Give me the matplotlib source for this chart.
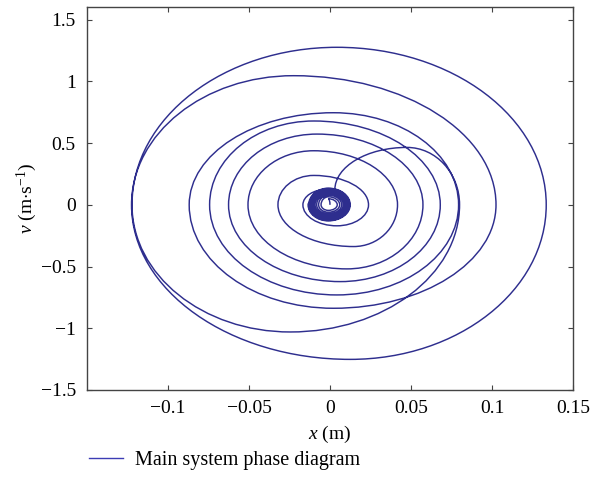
import numpy as np
import matplotlib.pyplot as plt
from matplotlib.path import Path
from matplotlib.patches import PathPatch

plt.rcParams['font.family'] = ['Liberation Serif', 'DejaVu Serif']
plt.rcParams['mathtext.fontset'] = 'custom'
plt.rcParams['mathtext.rm'] = 'Liberation Serif'
plt.rcParams['mathtext.it'] = 'Liberation Serif:italic'

# dense ring at the centre, one entry per turn (turning points of x and v)
ring_x0 = -0.001
ring_right = [0.0045, 0.0060, 0.0072, 0.0082, 0.0090, 0.0097, 0.0103, 0.0108, 0.0113, 0.0117, 0.0121, 0.0125]
ring_top = [0.049, 0.065, 0.078, 0.088, 0.097, 0.105, 0.111, 0.117, 0.122, 0.127, 0.131, 0.135]
ring_left = [-0.0055, -0.0070, -0.0082, -0.0092, -0.0100, -0.0107, -0.0113, -0.0118, -0.0123, -0.0127, -0.0131, -0.0135]
ring_bottom = [-0.045, -0.060, -0.072, -0.082, -0.091, -0.099, -0.105, -0.111, -0.117, -0.121, -0.126, -0.130]

# point where the trajectory leaves the ring
arc_start = (0.003, 0.12)

# big loops, one entry per turn: top (x, v), right x, bottom (x, v), left x
top_x = [0.0475, 0.0043, -0.0225, 0.0022, -0.010, -0.008, -0.010, -0.010]
top_v = [0.465, 1.276, 1.046, 0.746, 0.679, 0.573, 0.438, 0.238]
right_x = [0.0800, 0.1335, 0.1025, 0.0794, 0.0681, 0.0574, 0.0417, 0.0238]
bottom_x = [-0.0245, 0.0125, 0.0022, 0.0043, 0.0064, 0.0105, 0.0146, 0.0043]
bottom_v = [-1.030, -1.252, -0.838, -0.730, -0.622, -0.519, -0.338, -0.170]
left_x = [-0.1222, -0.1225, -0.0869, -0.0743, -0.0626, -0.0506, -0.0321, -0.0167]

# where it ends, back inside the ring
end_point = (-0.002, 0.125)

xticks = [-0.1, -0.05, 0, 0.05, 0.1, 0.15]
xlabels = ['\u22120.1', '\u22120.05', '0', '0.05', '0.1', '0.15']
yticks = [-1.5, -1, -0.5, 0, 0.5, 1, 1.5]
ylabels = ['\u22121.5', '\u22121', '\u22120.5', '0', '0.5', '1', '1.5']

line_color = '#2e2e8e'


# turning points -> smooth path (cubic Bezier quarter arcs)
# 'h' = horizontal tangent (extreme of v), 'v' = vertical tangent (extreme of x)
def phase_path(pts, kinds):
    k = 0.5523
    verts = [pts[0]]
    codes = [Path.MOVETO]
    for i in range(len(pts) - 1):
        x0, y0 = pts[i]
        x1, y1 = pts[i + 1]
        if kinds[i] == 'h':
            c1 = (x0 + k * (x1 - x0), y0)
        else:
            c1 = (x0, y0 + k * (y1 - y0))
        if kinds[i + 1] == 'h':
            c2 = (x1 - k * (x1 - x0), y1)
        else:
            c2 = (x1, y1 - k * (y1 - y0))
        verts += [c1, c2, (x1, y1)]
        codes += [Path.CURVE4] * 3
    return Path(verts, codes)


pts = [(0.0, 0.0)]
kinds = ['v']
for r, t, l, b in zip(ring_right, ring_top, ring_left, ring_bottom):
    pts += [(ring_x0, t), (r, 0.0), (ring_x0, b), (l, 0.0)]
    kinds += ['h', 'v', 'h', 'v']
pts.append(arc_start)
kinds.append('v')
for i in range(len(top_v)):
    pts += [(top_x[i], top_v[i]), (right_x[i], 0.0), (bottom_x[i], bottom_v[i]), (left_x[i], 0.0)]
    kinds += ['h', 'v', 'h', 'v']
pts.append(end_point)
kinds.append('h')

fig = plt.figure(figsize=(6.04, 4.87), dpi=100)
ax = fig.add_axes([0.144, 0.1992, 0.8046, 0.7858])

ax.add_patch(PathPatch(phase_path(pts, kinds), fill=False, edgecolor=line_color, lw=1.05))
# proxy line for the legend
ax.plot([], [], color='#3c3cb4', lw=1.0, label='Main system phase diagram')

ax.set_xlim(-0.15, 0.15)
ax.set_ylim(-1.5, 1.6)
ax.set_xticks(xticks)
ax.set_xticklabels(xlabels)
ax.set_yticks(yticks)
ax.set_yticklabels(ylabels)
ax.tick_params(direction='in', length=3.5, width=0.8, top=True, right=True,
               labelsize=14, color='#444444')
ax.tick_params(axis='x', pad=7)
ax.tick_params(axis='y', pad=8)
for s in ax.spines.values():
    s.set_color('#444444')
    s.set_linewidth(1.0)

ax.set_xlabel(r'$\it{x}$ (m)', fontsize=14, labelpad=5)
ax.set_ylabel(r'$\it{v}$ (m$\cdot$s$^{-1}$)', fontsize=14, labelpad=1)

fig.legend(loc='center left', bbox_to_anchor=(0.134, 1 - 460 / 487), frameon=False,
           fontsize=14.5, handlelength=1.7, handletextpad=0.6, borderaxespad=0)

fig.savefig('out.png', dpi=100)
